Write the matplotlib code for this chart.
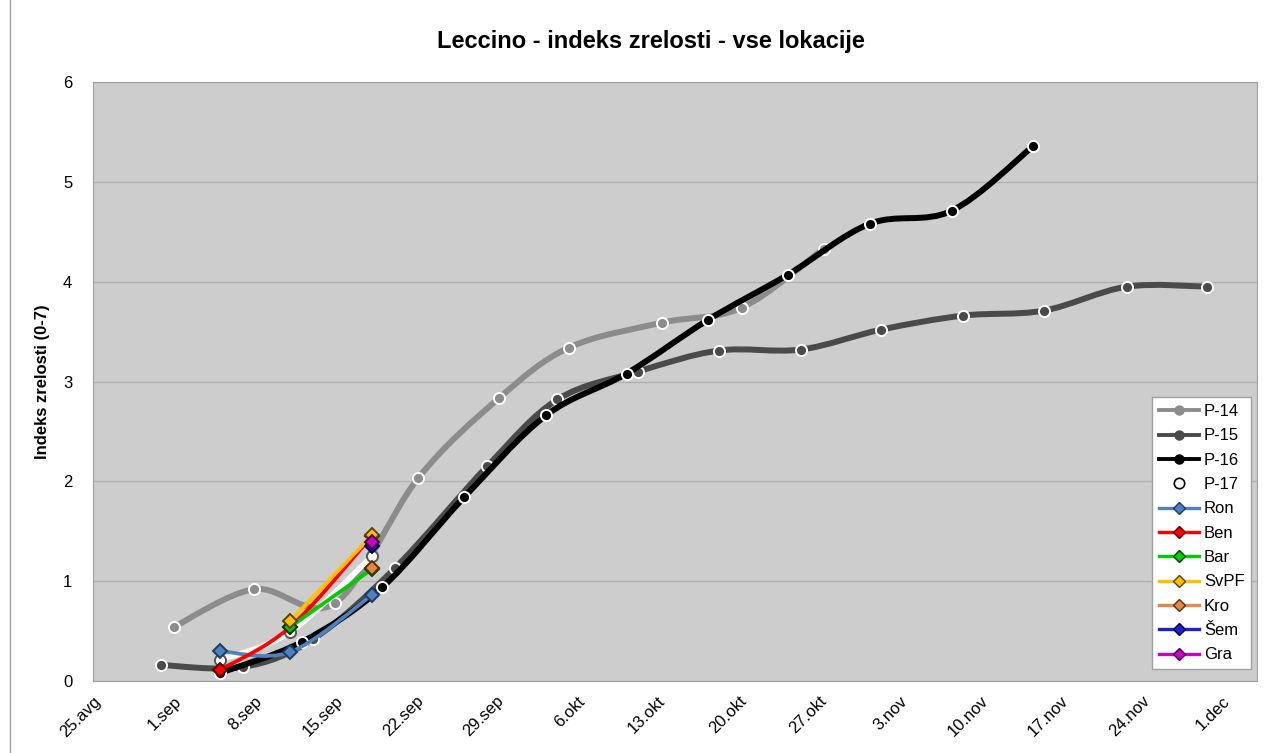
import numpy as np
import matplotlib
matplotlib.use("Agg")
from matplotlib import pyplot as plt
from matplotlib.path import Path
from matplotlib.patches import PathPatch
from matplotlib.lines import Line2D

plt.rcParams['font.family'] = ['Liberation Sans', 'DejaVu Sans']

# x = days after 25.avg
tick_days = [0, 7, 14, 21, 28, 35, 42, 49, 56, 63, 70, 77, 84, 91, 98]
tick_labels = ["25.avg", "1.sep", "8.sep", "15.sep", "22.sep", "29.sep", "6.okt",
               "13.okt", "20.okt", "27.okt", "3.nov", "10.nov", "17.nov", "24.nov", "1.dec"]

p14_x = [7.0, 14.0, 21.0, 28.2, 35.2, 41.3, 49.4, 56.3, 63.4]
p14_y = [0.54, 0.92, 0.78, 2.03, 2.83, 3.34, 3.59, 3.74, 4.33]

p15_x = [5.9, 13.0, 19.1, 26.2, 34.2, 40.3, 47.3, 54.3, 61.4, 68.4, 75.5, 82.5, 89.7, 96.7]
p15_y = [0.16, 0.14, 0.42, 1.13, 2.15, 2.82, 3.10, 3.31, 3.32, 3.52, 3.66, 3.71, 3.95, 3.95]

p16_x = [11.0, 18.1, 25.1, 32.2, 39.3, 46.3, 53.4, 60.3, 67.4, 74.5, 81.6]
p16_y = [0.08, 0.39, 0.94, 1.84, 2.66, 3.08, 3.62, 4.07, 4.58, 4.71, 5.36]

p17_x = [11.0, 17.1, 24.2]
p17_y = [0.21, 0.49, 1.25]

ron_x = [11.0, 17.1, 24.2]
ron_y = [0.30, 0.29, 0.86]
ben_x = [11.0, 17.1, 24.2]
ben_y = [0.11, 0.54, 1.45]
bar_x = [17.1, 24.2]
bar_y = [0.54, 1.12]
svpf_x = [17.1, 24.2]
svpf_y = [0.60, 1.46]
kro_x = [24.2]
kro_y = [1.13]
sem_x = [24.2]
sem_y = [1.35]
gra_x = [24.2]
gra_y = [1.39]


def smooth_line(ax, x, y, color, lw, z):
    # excel-like smoothed line (catmull-rom as cubic bezier)
    pts = np.column_stack([x, y]).astype(float)
    n = len(pts)
    if n < 2:
        return
    verts = [pts[0]]
    codes = [Path.MOVETO]
    for i in range(n - 1):
        p0 = pts[i - 1] if i > 0 else pts[i]
        p1 = pts[i]
        p2 = pts[i + 1]
        p3 = pts[i + 2] if i + 2 < n else pts[i + 1]
        verts += [p1 + (p2 - p0) / 6, p2 - (p3 - p1) / 6, p2]
        codes += [Path.CURVE4] * 3
    patch = PathPatch(Path(verts, codes), fill=False, edgecolor=color, lw=lw,
                      capstyle='round', joinstyle='round', zorder=z)
    ax.add_patch(patch)


fig = plt.figure(figsize=(12.82, 7.53), dpi=100)
ax = fig.add_axes([93 / 1282, 1 - 681 / 753, (1257 - 93) / 1282, (681 - 82) / 753])
ax.set_facecolor("#CDCDCD")

series = [
    ("P-14", p14_x, p14_y, "#8C8C8C", "o", "#8C8C8C", "white", 4.3),
    ("P-15", p15_x, p15_y, "#4A4A4A", "o", "#4A4A4A", "white", 4.3),
    ("P-16", p16_x, p16_y, "#000000", "o", "#000000", "white", 4.3),
    ("P-17", p17_x, p17_y, "#FFFFFF", "o", "#FFFFFF", "#555555", 4.0),
    ("Ron", ron_x, ron_y, "#4F81BD", "D", "#4F81BD", "#1F3864", 2.7),
    ("Ben", ben_x, ben_y, "#FF0000", "D", "#FF0000", "#5A0000", 2.7),
    ("Bar", bar_x, bar_y, "#00CC00", "D", "#00CC00", "#004000", 2.7),
    ("SvPF", svpf_x, svpf_y, "#FFC000", "D", "#FFC000", "#5A4000", 2.7),
    ("Kro", kro_x, kro_y, "#E0894A", "D", "#E0894A", "#5A3000", 2.7),
    ("Šem", sem_x, sem_y, "#2020C8", "D", "#2020C8", "#000050", 2.7),
    ("Gra", gra_x, gra_y, "#CC00CC", "D", "#CC00CC", "#400040", 2.7),
]

handles = []
for k, (name, xs, ys, lc, mk, mf, me, lw) in enumerate(series):
    z = 3 + k
    smooth_line(ax, xs, ys, lc, lw, z)
    ms = 8 if mk == "o" else 7.5
    ax.plot(xs, ys, linestyle="none", marker=mk, markersize=ms,
            markerfacecolor=mf, markeredgecolor=me, markeredgewidth=1.4, zorder=z + 0.5)
    if name == "P-17":
        h = Line2D([], [], color="white", lw=0, marker="o", markersize=7.5,
                   markerfacecolor="white", markeredgecolor="black", markeredgewidth=1.2)
    elif mk == "o":
        h = Line2D([], [], color=lc, lw=2.8, marker="o", markersize=6.5,
                   markerfacecolor=mf, markeredgecolor=mf)
    else:
        h = Line2D([], [], color=lc, lw=2.4, marker="D", markersize=6.5,
                   markerfacecolor=mf, markeredgecolor=me, markeredgewidth=1)
    handles.append(h)

ax.set_xlim(0, 101)
ax.set_ylim(0, 6)
ax.set_yticks(range(0, 7))
ax.set_xticks(tick_days)
ax.set_xticklabels(tick_labels, rotation=45, ha="right", rotation_mode="anchor", fontsize=12)
ax.tick_params(axis="y", length=0, pad=15, labelsize=12)
ax.tick_params(axis="x", length=0, pad=9)
ax.grid(axis="y", color="#B0B0B0", lw=1)
ax.set_axisbelow(True)
for s in ax.spines.values():
    s.set_color("#A0A0A0")
ax.set_ylabel("Indeks zrelosti (0-7)", fontsize=12, fontweight="bold", labelpad=9)

fig.text(0.508, 0.945, "Leccino - indeks zrelosti - vse lokacije", ha="center", va="center",
         fontsize=17, fontweight="bold", family=["Liberation Sans Narrow", "Liberation Sans"])

leg = ax.legend(handles, [s[0] for s in series], loc="lower right",
                bbox_to_anchor=(0.995, 0.02), borderaxespad=0, fontsize=12,
                fancybox=False, framealpha=1, edgecolor="#A0A0A0",
                handlelength=2.4, handletextpad=0.3, labelspacing=0.56, borderpad=0.4)
leg.get_frame().set_linewidth(1)

fig.add_artist(Line2D([10 / 1282, 10 / 1282], [0, 1], color="#A0A0A0", lw=1))

fig.savefig("out.png", dpi=100)
